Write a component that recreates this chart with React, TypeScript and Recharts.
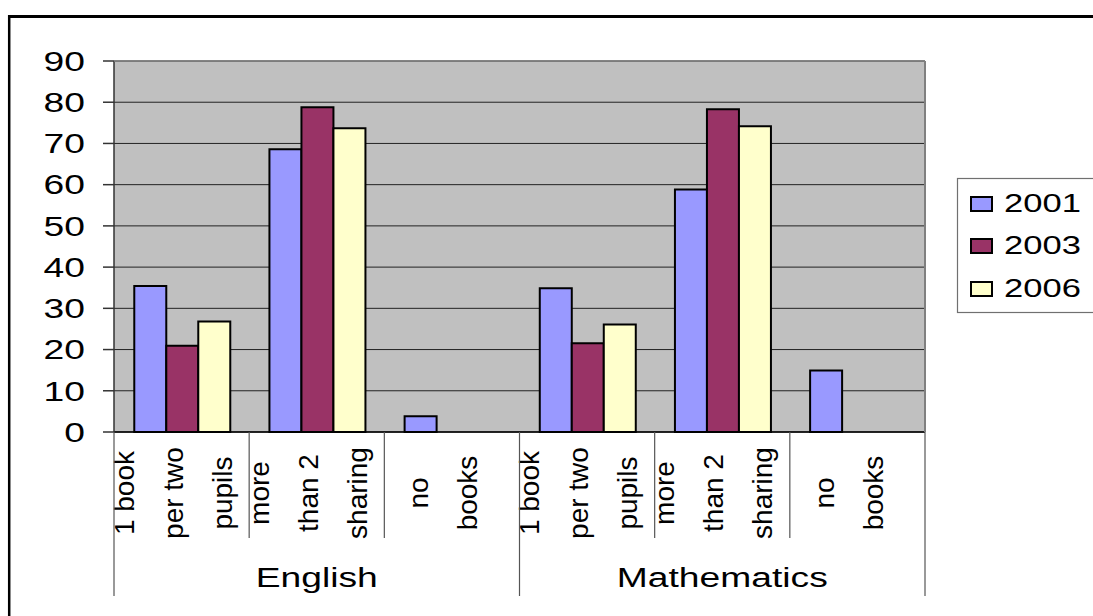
import React from 'react';
import { BarChart, Bar, XAxis, YAxis, CartesianGrid } from 'recharts';

// ---------- data ----------
const subjects = ['English', 'Mathematics'];
const optionLines: string[][] = [
  ['1 book', 'per two', 'pupils'],
  ['more', 'than 2', 'sharing'],
  ['no', 'books'],
];
const seriesNames = ['2001', '2003', '2006'];
const seriesColors = ['#9999FF', '#993366', '#FFFFCC'];
const values2001 = [35.4, 68.6, 3.8, 34.9, 58.8, 14.9];
const values2003 = [20.9, 78.8, null, 21.5, 78.3, null];
const values2006 = [26.8, 73.7, null, 26.1, 74.2, null];
const yTicks = [0, 10, 20, 30, 40, 50, 60, 70, 80, 90];

const seriesValues = [values2001, values2003, values2006];
const categoryLines: string[][] = subjects.flatMap(() => optionLines);
const rows = categoryLines.map((_, i) => ({
  key: i,
  s0: values2001[i],
  s1: values2003[i],
  s2: values2006[i],
}));

// ---------- layout ----------
const W = 1093;
const H = 616;
const PLOT_L = 114;
const PLOT_T = 61;
const PLOT_R = 925;
const PLOT_B = 432;
const Y_AXIS_W = 60;
const X_AXIS_H = 160;
const BAND = (PLOT_R - PLOT_L) / categoryLines.length;
const SX = 1.33; // horizontal stretch of horizontal text
const FONT = '"Liberation Sans", Arial, sans-serif';

const YTick = (props: any) => {
  const { x, y, payload } = props;
  return (
    <text
      transform={`translate(${x},${y}) scale(${SX},1)`}
      textAnchor="end"
      dominantBaseline="central"
      fontSize={28}
      fontFamily={FONT}
      fill="#000"
    >
      {payload.value}
    </text>
  );
};

const XTick = (props: any) => {
  const { payload } = props;
  const idx = Number(payload.value);
  const cx = payload.coordinate;
  const lines = categoryLines[idx] || [];
  const n = lines.length;
  const cy = 493;
  const perGroup = optionLines.length;
  const isGroupStart = idx % perGroup === 0;
  const isLast = idx === categoryLines.length - 1;
  const isGroupMid = idx % perGroup === 1;
  const subject = subjects[Math.floor(idx / perGroup)];
  const leftX = cx - BAND / 2;
  return (
    <g>
      {lines.map((t, i) => {
        const bx = cx + (i - (n - 1) / 2) * 49 + 1;
        return (
          <text
            key={i}
            x={bx}
            y={cy}
            transform={`rotate(-90 ${bx} ${cy})`}
            textAnchor="middle"
            fontSize={28}
            fontFamily={FONT}
            fill="#000"
          >
            {t}
          </text>
        );
      })}
      <line
        x1={leftX}
        x2={leftX}
        y1={PLOT_B}
        y2={isGroupStart ? 596 : 538}
        stroke="#555"
        strokeWidth={1.2}
      />
      {isLast && (
        <line x1={cx + BAND / 2} x2={cx + BAND / 2} y1={PLOT_B} y2={596} stroke="#555" strokeWidth={1.2} />
      )}
      {isGroupMid && (
        <text
          transform={`translate(${cx},587) scale(${SX},1)`}
          textAnchor="middle"
          fontSize={28}
          fontFamily={FONT}
          fill="#000"
        >
          {subject}
        </text>
      )}
    </g>
  );
};

const legendRowY = [203, 245, 288];

export default function App() {
  return (
    <div style={{ position: 'absolute', left: 0, top: 0, width: W, height: H, background: '#fff' }}>
      <BarChart
        width={W}
        height={H}
        data={rows}
        margin={{ top: PLOT_T, right: W - PLOT_R, left: PLOT_L - Y_AXIS_W, bottom: H - PLOT_B - X_AXIS_H }}
        barCategoryGap="15%"
        barGap={0}
      >
        <CartesianGrid
          vertical={false}
          horizontal={true}
          fill="#C0C0C0"
          fillOpacity={1}
          stroke="#222"
          strokeWidth={1}
        />
        <XAxis
          dataKey="key"
          type="category"
          interval={0}
          height={X_AXIS_H}
          tickLine={false}
          tickSize={0}
          tickMargin={0}
          axisLine={{ stroke: '#000', strokeWidth: 1.5 }}
          tick={<XTick />}
        />
        <YAxis
          width={Y_AXIS_W}
          domain={[0, 90]}
          ticks={yTicks}
          interval={0}
          tickSize={11}
          tickMargin={18}
          axisLine={{ stroke: '#333', strokeWidth: 1.5 }}
          tickLine={{ stroke: '#333', strokeWidth: 1.5 }}
          tick={<YTick />}
        />
        {seriesNames.map((name, i) => (
          <Bar
            key={name}
            dataKey={`s${i}`}
            name={name}
            fill={seriesColors[i]}
            stroke="#000"
            strokeWidth={2}
            isAnimationActive={false}
          />
        ))}
      </BarChart>
      <svg
        width={W}
        height={H}
        style={{ position: 'absolute', left: 0, top: 0, pointerEvents: 'none' }}
      >
        {/* outer chart border */}
        <line x1={8} x2={W} y1={16.5} y2={16.5} stroke="#000" strokeWidth={3} />
        <line x1={9.2} x2={9.2} y1={15} y2={H} stroke="#000" strokeWidth={2.5} />
        {/* plot area border */}
        <line x1={PLOT_L} x2={PLOT_R} y1={PLOT_T} y2={PLOT_T} stroke="#808080" strokeWidth={1.5} />
        <line x1={PLOT_R} x2={PLOT_R} y1={PLOT_T} y2={PLOT_B} stroke="#808080" strokeWidth={2} />
        {/* legend */}
        <rect x={957.5} y={178.5} width={200} height={134} fill="#fff" stroke="#707070" strokeWidth={1.2} />
        {seriesNames.map((name, i) => (
          <g key={name}>
            <rect
              x={971}
              y={legendRowY[i] - 6}
              width={21}
              height={14}
              fill={seriesColors[i]}
              stroke="#000"
              strokeWidth={2}
            />
            <text
              transform={`translate(1004,${legendRowY[i]}) scale(${SX},1)`}
              dominantBaseline="central"
              fontSize={26}
              fontFamily={FONT}
              fill="#000"
            >
              {name}
            </text>
          </g>
        ))}
      </svg>
    </div>
  );
}
